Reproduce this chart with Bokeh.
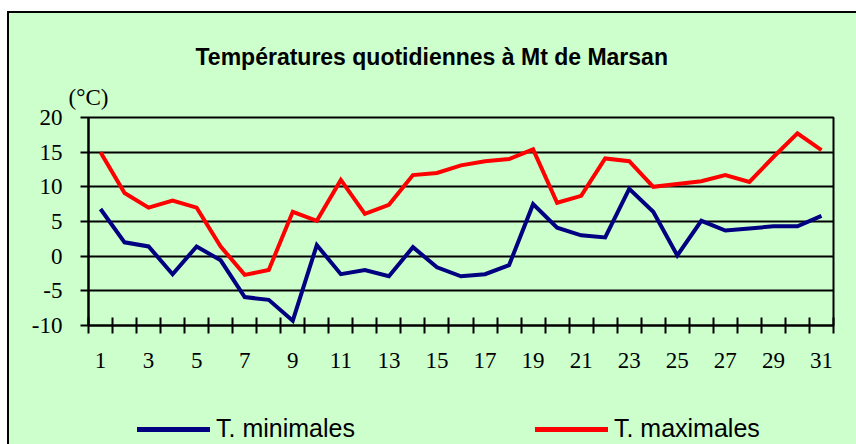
from bokeh.plotting import figure
from bokeh.layouts import column
from bokeh.models import LinearAxis, FixedTicker, Legend, LegendItem, Range1d
from bokeh.embed import file_html
from bokeh.resources import INLINE

# ---- data ----
days = list(range(1, 32))
tmin = [6.8, 2.0, 1.4, -2.6, 1.4, -0.6, -5.9, -6.3, -9.3, 1.6, -2.6, -2.0, -2.9, 1.3, -1.6,
        -2.9, -2.6, -1.3, 7.5, 4.1, 3.0, 2.7, 9.7, 6.4, 0.1, 5.1, 3.7, 4.0, 4.3, 4.3, 5.8]
tmax = [15.0, 9.1, 7.0, 8.0, 7.0, 1.4, -2.7, -2.0, 6.4, 5.1, 11.0, 6.1, 7.4, 11.7, 12.0,
        13.1, 13.7, 14.0, 15.4, 7.7, 8.7, 14.1, 13.7, 10.0, 10.4, 10.8, 11.7, 10.7, 14.3, 17.7, 15.3]
label_days = days[::2]
y_ticks = [-10, -5, 0, 5, 10, 15, 20]
y_labels = ["-10", "-5", "0", "5", "10", "15", "20"]
title_text = "Températures quotidiennes à Mt de Marsan"
unit_text = "(°C)"
series_names = ["T. minimales", "T. maximales"]
colors = ["#000080", "#FF0000"]

bounds = [d - 0.5 for d in days] + [days[-1] + 0.5]

GREEN = "#CCFFCC"
SERIF = "Liberation Serif"
SANS = "Liberation Sans"

p = figure(width=849, height=389,
           x_range=Range1d(bounds[0], bounds[-1]), y_range=Range1d(y_ticks[0], y_ticks[-1]),
           output_backend="svg", toolbar_location=None,
           min_border_left=81, min_border_right=23, min_border_top=106, min_border_bottom=75,
           background_fill_color=None, border_fill_color=None,
           outline_line_color="black", outline_line_width=2)

xa = p.below[0]
ya = p.left[0]

p.title.text = title_text
p.title.align = "left"
p.title.offset = 107
p.title.text_font = SANS
p.title.text_font_style = "bold"
p.title.text_font_size = "23px"
p.title.text_color = "black"
p.title.standoff = 23

# unit text above the y axis
ua = LinearAxis(ticker=FixedTicker(ticks=[bounds[0]]))
ua.major_label_overrides = {bounds[0]: unit_text}
ua.axis_line_color = None
ua.major_tick_line_color = None
ua.minor_tick_line_color = None
ua.major_tick_in = 0
ua.major_tick_out = 0
ua.major_label_standoff = 8
ua.major_label_text_font = SERIF
ua.major_label_text_font_size = "23px"
ua.major_label_text_color = "black"
p.add_layout(ua, "above")

# x axis: ticks at day boundaries
xa.ticker = FixedTicker(ticks=bounds)
xa.major_label_overrides = {b: "" for b in bounds}
xa.major_label_text_font_size = "1px"
xa.major_tick_in = 8
xa.major_tick_out = 8
xa.major_tick_line_width = 2
xa.axis_line_width = 2
xa.minor_tick_line_color = None
xa.major_label_standoff = 0

# x labels
xl = LinearAxis(ticker=FixedTicker(ticks=label_days))
xl.axis_line_color = None
xl.major_tick_line_color = None
xl.minor_tick_line_color = None
xl.major_tick_in = 0
xl.major_tick_out = 0
xl.major_label_standoff = 19
xl.major_label_text_font = SERIF
xl.major_label_text_font_size = "23px"
xl.major_label_text_color = "black"
p.add_layout(xl, "below")

ya.ticker = FixedTicker(ticks=y_ticks)
ya.major_label_overrides = dict(zip(y_ticks, y_labels))
ya.major_tick_in = 0
ya.major_tick_out = 8
ya.major_tick_line_width = 2
ya.axis_line_width = 2
ya.minor_tick_line_color = None
ya.major_label_standoff = 18
ya.major_label_text_font = SERIF
ya.major_label_text_font_size = "23px"
ya.major_label_text_color = "black"

p.xgrid.visible = False
p.ygrid.ticker = FixedTicker(ticks=y_ticks)
p.ygrid.grid_line_color = "black"
p.ygrid.grid_line_width = 2

p.line(days, tmin, line_color=colors[0], line_width=4, line_join="miter")
p.line(days, tmax, line_color=colors[1], line_width=4, line_join="miter")

# legend strip
p2 = figure(width=849, height=44, x_range=Range1d(bounds[0], bounds[-1]),
            y_range=Range1d(y_ticks[0], y_ticks[-1]),
            output_backend="svg", toolbar_location=None, min_border=0,
            x_axis_type=None, y_axis_type=None,
            background_fill_color=None, border_fill_color=None, outline_line_color=None)
p2.grid.visible = False
k_min = p2.line(days, tmin, line_color=colors[0], line_width=5, line_cap="round", visible=False)
k_max = p2.line(days, tmax, line_color=colors[1], line_width=5, line_cap="round", visible=False)

legend = Legend(items=[LegendItem(label=series_names[0], renderers=[k_min]),
                       LegendItem(label=series_names[1], renderers=[k_max])],
                orientation="horizontal", location=(49, 1),
                spacing=180, glyph_width=73, glyph_height=20, label_standoff=6,
                padding=0, margin=0, border_line_color=None, background_fill_alpha=0,
                inactive_fill_alpha=0, click_policy="none",
                label_text_font=SANS, label_text_font_size="25px", label_text_color="black")
p2.add_layout(legend, "center")

layout = column(p, p2, spacing=0)
layout.margin = (11, 0, 0, 7)
layout.styles = {"background-color": GREEN, "box-shadow": "inset 2px 2px 0 0 black"}

open("out.html", "w").write(file_html(layout, INLINE))
